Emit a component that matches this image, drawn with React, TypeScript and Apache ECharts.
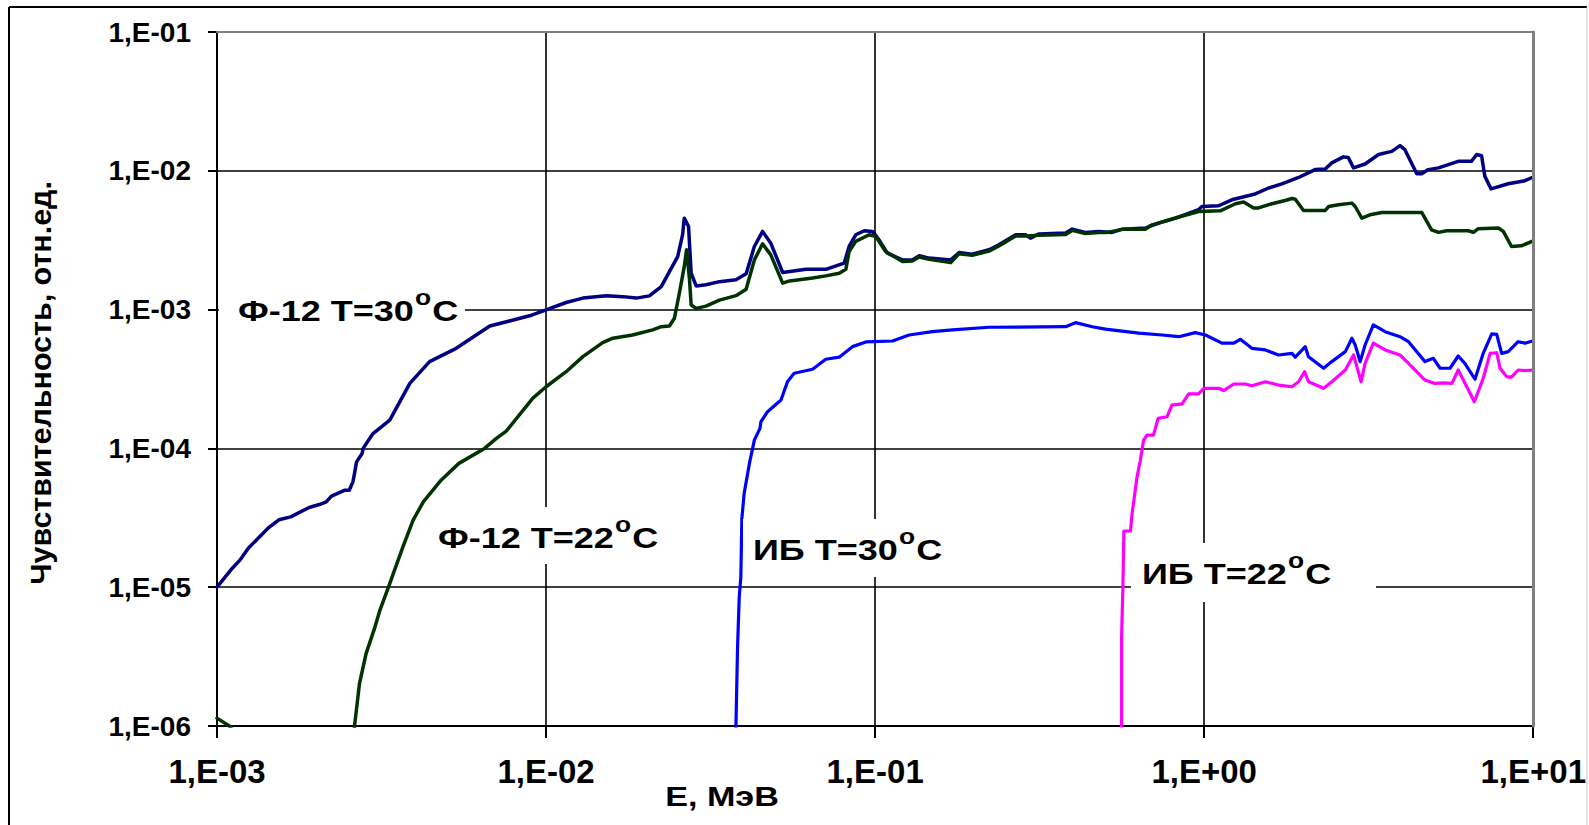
import React, { useEffect, useRef } from 'react';
import * as echarts from 'echarts';

const FONT = '"Liberation Sans", Arial, Helvetica, sans-serif';

const X_TICK_LABELS = ['1,E-03', '1,E-02', '1,E-01', '1,E+00', '1,E+01'];
const Y_TICK_LABELS = ['1,E-06', '1,E-05', '1,E-04', '1,E-03', '1,E-02', '1,E-01'];

const X_TITLE = 'E, МэВ';
const Y_TITLE = 'Чувствительность, отн.ед.';

// Ф-12 T=30°C  [E, MeV ; sensitivity]
const F12_30: [number, number][] = [
  [0.001, 1.0e-5], [0.001104, 1.34e-5], [0.001172, 1.56e-5], [0.001245, 1.91e-5],
  [0.001426, 2.65e-5], [0.001542, 3.06e-5], [0.001675, 3.21e-5], [0.001905, 3.75e-5],
  [0.002046, 3.94e-5], [0.002148, 4.12e-5], [0.002228, 4.53e-5], [0.002438, 4.99e-5],
  [0.002523, 5.0e-5], [0.002588, 5.74e-5], [0.002618, 6.61e-5], [0.002655, 8.0e-5],
  [0.002761, 9.2e-5], [0.00278, 1.0e-4], [0.002979, 1.28e-4], [0.00335, 1.6e-4],
  [0.003855, 2.94e-4], [0.004426, 4.22e-4], [0.005333, 5.26e-4], [0.006745, 7.62e-4],
  [0.008913, 9.02e-4], [0.01, 9.95e-4], [0.01151, 1.125e-3], [0.01294, 1.21e-3],
  [0.01524, 1.256e-3], [0.0171, 1.24e-3], [0.01879, 1.21e-3], [0.0206, 1.256e-3],
  [0.02239, 1.466e-3], [0.02371, 1.88e-3], [0.02512, 2.41e-3], [0.026, 3.47e-3],
  [0.0263, 4.56e-3], [0.0271, 3.97e-3], [0.0276, 1.83e-3], [0.02858, 1.48e-3],
  [0.03062, 1.51e-3], [0.03365, 1.59e-3], [0.03776, 1.64e-3], [0.04055, 1.81e-3],
  [0.04295, 2.85e-3], [0.0455, 3.66e-3], [0.04819, 3.01e-3], [0.05236, 1.85e-3],
  [0.06166, 1.95e-3], [0.07079, 1.95e-3], [0.08054, 2.16e-3], [0.08337, 2.85e-3],
  [0.0873, 3.46e-3], [0.09268, 3.7e-3], [0.09817, 3.66e-3], [0.1028, 3.18e-3],
  [0.1089, 2.55e-3], [0.1211, 2.28e-3], [0.1297, 2.28e-3], [0.1361, 2.44e-3],
  [0.1459, 2.35e-3], [0.1698, 2.28e-3], [0.1799, 2.58e-3], [0.1972, 2.51e-3],
  [0.2218, 2.7e-3], [0.2377, 2.93e-3], [0.2673, 3.46e-3], [0.2864, 3.46e-3],
  [0.2965, 3.27e-3], [0.3148, 3.51e-3], [0.3793, 3.56e-3], [0.3972, 3.8e-3],
  [0.4355, 3.6e-3], [0.4786, 3.66e-3], [0.5248, 3.6e-3], [0.5636, 3.8e-3],
  [0.6637, 3.87e-3], [0.6792, 3.97e-3], [0.7278, 4.2e-3], [0.8185, 4.56e-3],
  [0.9616, 5.24e-3], [0.984, 5.53e-3], [1.107, 5.6e-3], [1.213, 6.18e-3],
  [1.429, 6.81e-3], [1.57, 7.52e-3], [1.722, 8.04e-3], [1.936, 8.95e-3],
  [2.173, 1.02e-2], [2.333, 1.03e-2], [2.443, 1.14e-2], [2.649, 1.26e-2],
  [2.742, 1.245e-2], [2.844, 1.05e-2], [3.083, 1.12e-2], [3.388, 1.31e-2],
  [3.715, 1.38e-2], [3.936, 1.52e-2], [4.074, 1.42e-2], [4.426, 9.53e-3],
  [4.581, 9.53e-3], [4.797, 1.02e-2], [5.152, 1.05e-2], [5.916, 1.17e-2],
  [6.486, 1.17e-2], [6.73, 1.31e-2], [6.966, 1.285e-2], [7.129, 9.12e-3],
  [7.447, 7.4e-3], [8.395, 8.07e-3], [9.441, 8.49e-3], [10, 9.02e-3],
];

// Ф-12 T=22°C
const F12_22: [number, number | string][] = [
  [0.001, 1.14e-6], [0.00109, 1.0e-6], [0.00113, 9.0e-7], [0.0018, '-'],
  [0.00261, 9.0e-7], [0.002618, 1.0e-6], [0.00271, 2.02e-6], [0.002838, 3.32e-6],
  [0.00302, 5.16e-6], [0.003126, 6.81e-6], [0.003319, 1.0e-5], [0.003673, 1.95e-5],
  [0.003945, 3.04e-5], [0.004236, 4.12e-5], [0.004797, 5.9e-5], [0.005433, 7.8e-5],
  [0.006501, 1.0e-4], [0.007063, 1.18e-4], [0.007568, 1.33e-4], [0.00912, 2.3e-4],
  [0.01, 2.78e-4], [0.01151, 3.57e-4], [0.01294, 4.58e-4], [0.01486, 5.78e-4],
  [0.01596, 6.22e-4], [0.01832, 6.56e-4], [0.02109, 7.14e-4], [0.02239, 7.53e-4],
  [0.02371, 7.62e-4], [0.02455, 8.67e-4], [0.02541, 1.31e-3], [0.0263, 2.04e-3],
  [0.02673, 2.7e-3], [0.02729, 1.64e-3], [0.0276, 1.08e-3], [0.02858, 1.02e-3],
  [0.03062, 1.06e-3], [0.03365, 1.17e-3], [0.03776, 1.26e-3], [0.04055, 1.4e-3],
  [0.04295, 2.28e-3], [0.0455, 2.98e-3], [0.04819, 2.48e-3], [0.05236, 1.55e-3],
  [0.05495, 1.61e-3], [0.06457, 1.69e-3], [0.07079, 1.75e-3], [0.0778, 1.83e-3],
  [0.08147, 1.95e-3], [0.08337, 2.62e-3], [0.0873, 3.1e-3], [0.09594, 3.46e-3],
  [0.1005, 3.36e-3], [0.1076, 2.62e-3], [0.1211, 2.22e-3], [0.1297, 2.24e-3],
  [0.1361, 2.39e-3], [0.1459, 2.3e-3], [0.1698, 2.18e-3], [0.1799, 2.52e-3],
  [0.1972, 2.46e-3], [0.2218, 2.64e-3], [0.2377, 2.87e-3], [0.2673, 3.39e-3],
  [0.2864, 3.39e-3], [0.3148, 3.44e-3], [0.3793, 3.48e-3], [0.3972, 3.72e-3],
  [0.4355, 3.53e-3], [0.4786, 3.6e-3], [0.507, 3.6e-3], [0.5702, 3.8e-3],
  [0.6637, 3.8e-3], [0.695, 4.08e-3], [0.8375, 4.65e-3], [0.9616, 5.09e-3],
  [1.119, 5.15e-3], [1.245, 5.79e-3], [1.318, 5.96e-3], [1.413, 5.4e-3],
  [1.462, 5.4e-3], [1.607, 5.79e-3], [1.762, 6.11e-3], [1.849, 6.32e-3],
  [1.892, 6.24e-3], [2.004, 5.18e-3], [2.333, 5.18e-3], [2.388, 5.53e-3],
  [2.559, 5.69e-3], [2.812, 5.85e-3], [2.877, 5.53e-3], [3.013, 4.56e-3],
  [3.192, 4.82e-3], [3.467, 5.01e-3], [4.581, 5.01e-3], [4.909, 3.76e-3],
  [5.152, 3.6e-3], [5.458, 3.7e-3], [6.353, 3.7e-3], [6.577, 3.6e-3],
  [6.792, 3.82e-3], [7.834, 3.87e-3], [8.11, 3.66e-3], [8.59, 2.85e-3],
  [9.204, 2.88e-3], [10, 3.13e-3],
];

// ИБ T=30°C
const IB_30: [number, number][] = [
  [0.0377, 9.0e-7], [0.03776, 1.0e-6], [0.03819, 3.7e-6], [0.03864, 8.49e-6],
  [0.03908, 1.186e-5], [0.03936, 3.13e-5], [0.03999, 4.73e-5], [0.0415, 7.8e-5],
  [0.04295, 1.148e-4], [0.04467, 1.393e-4], [0.04498, 1.556e-4], [0.0471, 1.837e-4],
  [0.05176, 2.23e-4], [0.0542, 3.03e-4], [0.05675, 3.48e-4], [0.06457, 3.72e-4],
  [0.07079, 4.39e-4], [0.0778, 4.54e-4], [0.08531, 5.41e-4], [0.09376, 5.85e-4],
  [0.113, 5.94e-4], [0.1268, 6.56e-4], [0.1493, 6.93e-4], [0.1718, 7.14e-4],
  [0.2218, 7.46e-4], [0.3793, 7.53e-4], [0.4064, 8.05e-4], [0.4571, 7.53e-4],
  [0.5012, 7.23e-4], [0.6324, 6.76e-4], [0.7447, 6.56e-4], [0.8375, 6.38e-4],
  [0.9397, 6.82e-4], [1.009, 6.56e-4], [1.132, 5.73e-4], [1.23, 5.73e-4],
  [1.288, 6.11e-4], [1.396, 5.26e-4], [1.535, 5.12e-4], [1.683, 4.71e-4],
  [1.849, 4.84e-4], [1.892, 4.54e-4], [2.028, 5.41e-4], [2.075, 4.58e-4],
  [2.307, 3.78e-4], [2.443, 4.22e-4], [2.685, 4.98e-4], [2.812, 6.22e-4],
  [2.877, 5.56e-4], [2.979, 4.22e-4], [3.083, 5.56e-4], [3.266, 7.76e-4],
  [3.548, 6.93e-4], [3.936, 6.38e-4], [4.178, 5.87e-4], [4.688, 4.22e-4],
  [4.966, 4.46e-4], [5.212, 3.78e-4], [5.585, 3.78e-4], [5.916, 4.63e-4],
  [6.194, 4.1e-4], [6.653, 3.15e-4], [7.047, 4.84e-4], [7.482, 6.68e-4],
  [7.745, 6.64e-4], [8.017, 4.84e-4], [8.395, 4.98e-4], [8.995, 5.87e-4],
  [9.441, 5.73e-4], [10, 5.97e-4],
];

// ИБ T=22°C
const IB_22: [number, number][] = [
  [0.5605, 9.0e-7], [0.561, 1.0e-6], [0.561, 4.38e-6], [0.5662, 1.0e-5],
  [0.5702, 2.54e-5], [0.597, 2.54e-5], [0.6039, 3.4e-5], [0.6252, 6.24e-5],
  [0.6397, 8.22e-5], [0.6546, 1.148e-4], [0.6699, 1.247e-4], [0.7015, 1.247e-4],
  [0.7244, 1.644e-4], [0.7709, 1.69e-4], [0.798, 2.05e-4], [0.857, 2.09e-4],
  [0.8974, 2.47e-4], [0.9616, 2.47e-4], [0.9977, 2.71e-4], [1.107, 2.71e-4],
  [1.146, 2.61e-4], [1.23, 2.91e-4], [1.334, 2.91e-4], [1.396, 2.83e-4],
  [1.535, 3.02e-4], [1.683, 2.86e-4], [1.849, 2.78e-4], [1.936, 3.02e-4],
  [2.018, 3.57e-4], [2.075, 3.02e-4], [2.307, 2.71e-4], [2.443, 3.02e-4],
  [2.685, 3.67e-4], [2.844, 4.71e-4], [2.911, 3.88e-4], [2.999, 3.02e-4],
  [3.083, 4.1e-4], [3.266, 5.73e-4], [3.548, 5.12e-4], [3.936, 4.71e-4],
  [4.178, 4.1e-4], [4.688, 3.11e-4], [5.023, 2.94e-4], [5.383, 2.97e-4],
  [5.662, 2.94e-4], [5.916, 3.67e-4], [6.281, 2.78e-4], [6.622, 2.17e-4],
  [7.047, 3.2e-4], [7.396, 4.84e-4], [7.745, 4.89e-4], [7.925, 3.78e-4],
  [8.299, 3.29e-4], [8.59, 3.26e-4], [8.995, 3.67e-4], [9.441, 3.63e-4],
  [10, 3.67e-4],
];

const SERIES_NAMES = ['Ф-12 T=30', 'Ф-12 T=22', 'ИБ T=30', 'ИБ T=22'];

const expIndex = (v: number, minExp: number) => Math.round(Math.log10(v)) - minExp;

function annotation(
  name: string,
  tx: number,
  ty: number,
  box: [number, number, number, number]
): any[] {
  return [
    {
      type: 'rect',
      z: 100,
      shape: { x: box[0], y: box[1], width: box[2], height: box[3] },
      style: { fill: '#ffffff', stroke: null },
      silent: true,
    },
    {
      type: 'text',
      z: 101,
      x: tx,
      y: ty,
      scaleX: 1.2,
      scaleY: 1,
      silent: true,
      style: {
        text: `{a|${name}}{s|o}{a|C}`,
        fill: '#000',
        align: 'left',
        verticalAlign: 'middle',
        textAlign: 'left',
        textVerticalAlign: 'middle',
        rich: {
          a: { fontSize: 30, fontWeight: 'bold', fontFamily: FONT, fill: '#000', lineHeight: 50 },
          s: { fontSize: 22, fontWeight: 'bold', fontFamily: FONT, fill: '#000', verticalAlign: 'top', lineHeight: 24, padding: [0, 1, 0, 1] },
        },
      },
    },
  ];
}

export default function App() {
  const ref = useRef<HTMLDivElement>(null);

  useEffect(() => {
    if (!ref.current) return;
    const chart = echarts.init(ref.current, undefined, { renderer: 'svg' });

    const lineSeries = (name: string, data: any[], color: string, width: number) => ({
      name,
      type: 'line',
      data,
      xAxisIndex: 0,
      yAxisIndex: 0,
      symbol: 'none',
      showSymbol: false,
      connectNulls: false,
      clip: true,
      lineStyle: { color, width, join: 'round', cap: 'round' },
      itemStyle: { color },
      emphasis: { disabled: true },
      z: 2,
    });

    const option: any = {
      animation: false,
      backgroundColor: '#ffffff',
      grid: { left: 217, right: 54, top: 32, bottom: 99, containLabel: false },
      tooltip: { show: false },
      xAxis: [
        {
          type: 'log',
          logBase: 10,
          min: 0.001,
          max: 10,
          position: 'bottom',
          axisLine: { show: true, onZero: false, lineStyle: { color: '#000', width: 2 } },
          axisTick: { show: true, length: 12, lineStyle: { color: '#000', width: 2 } },
          minorTick: { show: false },
          minorSplitLine: { show: false },
          splitLine: { show: true, lineStyle: { color: '#000', width: 1.6 } },
          axisLabel: {
            formatter: (v: number) => X_TICK_LABELS[expIndex(v, -3)] ?? '',
            fontSize: 33,
            fontWeight: 'bold',
            fontFamily: FONT,
            color: '#000',
            margin: 29,
            showMinLabel: true,
            showMaxLabel: true,
          },
        },
        {
          type: 'log',
          logBase: 10,
          min: 0.001,
          max: 10,
          position: 'top',
          z: 5,
          axisLine: { show: true, onZero: false, lineStyle: { color: '#808080', width: 2 } },
          axisTick: { show: false },
          axisLabel: { show: false },
          splitLine: { show: false },
        },
      ],
      yAxis: [
        {
          type: 'log',
          logBase: 10,
          min: 1e-6,
          max: 0.1,
          position: 'left',
          axisLine: { show: true, onZero: false, lineStyle: { color: '#000', width: 2 } },
          axisTick: { show: true, length: 9, lineStyle: { color: '#000', width: 2 } },
          minorTick: { show: false },
          minorSplitLine: { show: false },
          splitLine: { show: true, lineStyle: { color: '#000', width: 1.6 } },
          axisLabel: {
            formatter: (v: number) => Y_TICK_LABELS[expIndex(v, -6)] ?? '',
            fontSize: 28,
            fontWeight: 'bold',
            fontFamily: FONT,
            color: '#000',
            margin: 26,
            showMinLabel: true,
            showMaxLabel: true,
          },
        },
        {
          type: 'log',
          logBase: 10,
          min: 1e-6,
          max: 0.1,
          position: 'right',
          z: 5,
          axisLine: { show: true, onZero: false, lineStyle: { color: '#808080', width: 3 } },
          axisTick: { show: false },
          axisLabel: { show: false },
          splitLine: { show: false },
        },
      ],
      series: [
        lineSeries(SERIES_NAMES[0], F12_30, '#000080', 3.5),
        lineSeries(SERIES_NAMES[1], F12_22, '#003300', 3.5),
        lineSeries(SERIES_NAMES[2], IB_30, '#0000ff', 3.2),
        lineSeries(SERIES_NAMES[3], IB_22, '#ff00ff', 3.2),
      ],
      graphic: [
        // outer chart frame
        { type: 'line', z: 0, silent: true, shape: { x1: 9, y1: 7, x2: 9, y2: 830 }, style: { stroke: '#000', lineWidth: 2 } },
        { type: 'line', z: 0, silent: true, shape: { x1: 9, y1: 7, x2: 1587, y2: 7 }, style: { stroke: '#000', lineWidth: 2 } },
        { type: 'line', z: 0, silent: true, shape: { x1: 1587, y1: 7, x2: 1587, y2: 830 }, style: { stroke: '#c8c8c8', lineWidth: 1 } },
        ...annotation(SERIES_NAMES[0], 238, 311, [219, 291, 246, 40]),
        ...annotation(SERIES_NAMES[1], 438, 538, [426, 507, 238, 57]),
        ...annotation(SERIES_NAMES[2], 753, 550, [743, 519, 207, 58]),
        ...annotation(SERIES_NAMES[3], 1142, 574, [1131, 543, 245, 59]),
        {
          type: 'text',
          z: 10,
          x: 722,
          y: 797,
          scaleX: 1.22,
          silent: true,
          style: {
            text: X_TITLE,
            fill: '#000',
            font: `bold 28px ${FONT}`,
            align: 'center',
            verticalAlign: 'middle',
            textAlign: 'center',
            textVerticalAlign: 'middle',
          },
        },
        {
          type: 'text',
          z: 10,
          x: 41,
          y: 383,
          rotation: Math.PI / 2,
          scaleX: 1.05,
          silent: true,
          style: {
            text: Y_TITLE,
            fill: '#000',
            font: `bold 29px ${FONT}`,
            align: 'center',
            verticalAlign: 'middle',
            textAlign: 'center',
            textVerticalAlign: 'middle',
          },
        },
      ],
    };

    chart.setOption(option);
    return () => {
      chart.dispose();
    };
  }, []);

  return (
    <div
      ref={ref}
      style={{ position: 'absolute', left: 0, top: 0, width: 1589, height: 825, background: '#fff' }}
    />
  );
}
